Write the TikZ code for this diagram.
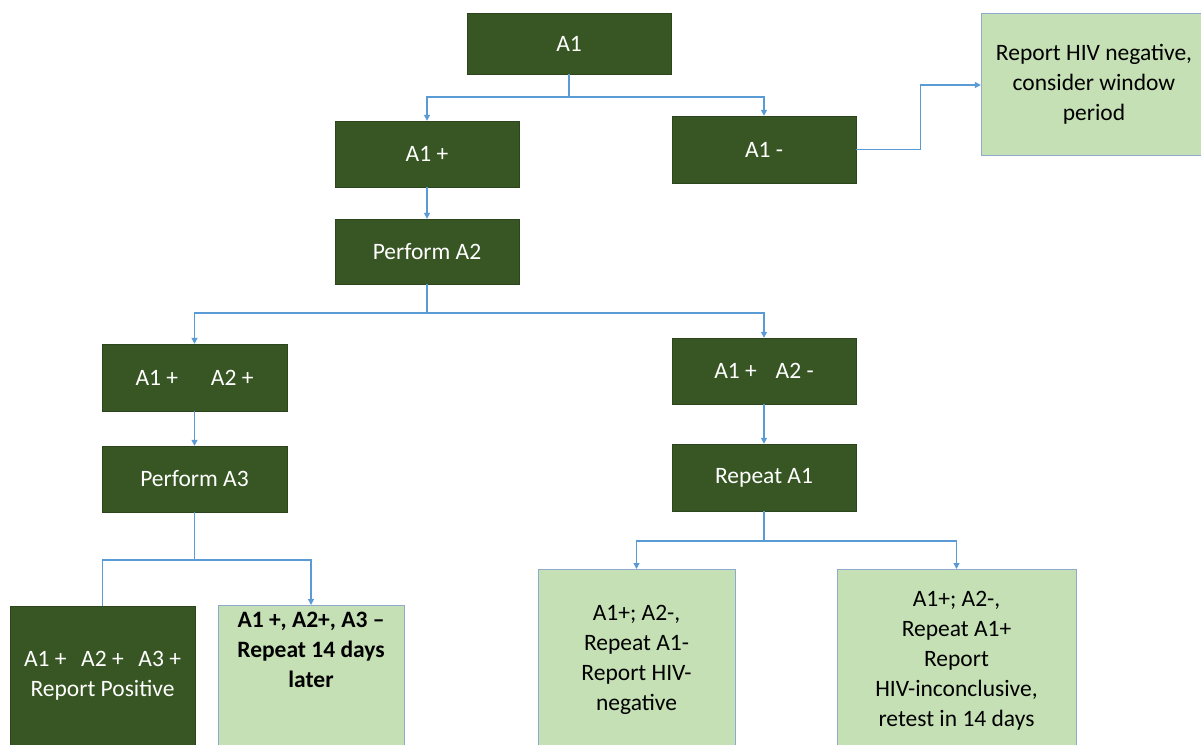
\documentclass[tikz,border=0pt]{standalone}
\usepackage{fontspec}
\setmainfont{Carlito}
\usetikzlibrary{arrows.meta}
\definecolor{dkgreen}{HTML}{375623}
\definecolor{ltgreen}{HTML}{C5E0B4}
\definecolor{ltborder}{HTML}{8FAACC}
\definecolor{conn}{HTML}{5B9BD5}
\begin{document}
\begin{tikzpicture}[x=1pt,y=-1pt,
  dkbox/.style={draw=dkgreen!80!black,fill=dkgreen,text=white,inner sep=0pt,font=\fontsize{23.5}{30}\selectfont},
  ltbox/.style={draw=ltborder,fill=ltgreen,text=black,inner sep=0pt,font=\fontsize{23.5}{30}\selectfont},
  txt/.style={align=center,inner sep=0pt,font=\fontsize{23.5}{30}\selectfont},
  conline/.style={draw=conn,line width=1.2pt},
  arr/.style={conline,-{Triangle[length=6pt,width=6pt]}}]
\useasboundingbox (0,0) rectangle (1201,744);
\clip (0,0) rectangle (1201,744);
% top level
\node[dkbox,minimum width=204pt,minimum height=61pt] (a1) at (569,43.5) {A1};
\node[dkbox,minimum width=184pt,minimum height=66pt] (a1p) at (427,154) {A1 +};
\node[dkbox,minimum width=184pt,minimum height=67pt] (a1m) at (764,149.5) {A1 -};
\node[ltbox,minimum width=226pt,minimum height=142pt] (rep) at (1094,84) {};
\node[txt] (rept) at (1094,84) {Report HIV negative,\\consider window\\period};
\node[dkbox,minimum width=184pt,minimum height=65pt] (pa2) at (427,251.5) {Perform A2};
\node[dkbox,minimum width=185pt,minimum height=67pt] (p2p) at (194.5,377.5) {A1 +\hspace{1.4em}A2 +};
\node[dkbox,minimum width=184pt,minimum height=66pt] (p2m) at (764,371) {A1 +\hspace{0.8em}A2 -};
\node[dkbox,minimum width=185pt,minimum height=66pt] (pa3) at (194.5,479) {Perform A3};
\node[dkbox,minimum width=184pt,minimum height=67pt] (ra1) at (764,477.5) {Repeat A1};
% bottom boxes (cut by the page edge)
\node[dkbox,minimum width=185pt,minimum height=160pt,anchor=north] (pos) at (102.5,606) {};
\node[txt,text=white] (post) at (102.5,676) {A1 +\hspace{0.4em} A2 +\hspace{0.4em} A3 +\\Report Positive};
\node[ltbox,minimum width=186pt,minimum height=160pt,anchor=north] (r14) at (311,605) {};
\node[txt,font=\fontsize{23.5}{30}\selectfont\bfseries] (r14t) at (311,650) {A1 +, A2+, A3 --\\Repeat 14 days\\later};
\node[ltbox,minimum width=197pt,minimum height=200pt,anchor=north] (neg) at (636.5,569) {};
\node[txt] (negt) at (636.5,660) {A1+; A2-,\\Repeat A1-\\Report HIV-\\negative};
\node[ltbox,minimum width=239pt,minimum height=200pt,anchor=north] (inc) at (956.5,569) {};
\node[txt] (inct) at (956.5,661) {A1+; A2-,\\Repeat A1+\\Report\\HIV-inconclusive,\\retest in 14 days};
% connectors
\coordinate (j1) at (569,97);
\draw[conline] (a1.south) -- (j1);
\draw[arr] (j1) -| (a1p.north);
\draw[arr] (j1) -| (a1m.north);
\draw[arr] (a1m.east) -- ++(64,0) |- (rep.west |- 0,85);
\draw[arr] (a1p.south) -- (pa2.north);
\coordinate (j2) at (427,313);
\draw[conline] (pa2.south) -- (j2);
\draw[arr] (j2) -| (p2p.north);
\draw[arr] (j2) -| (p2m.north);
\draw[arr] (p2p.south) -- (pa3.north);
\draw[arr] (p2m.south) -- (ra1.north);
\coordinate (j3) at (194.5,560);
\draw[conline] (pa3.south) -- (j3);
\draw[conline] (j3) -| (pos.north);
\draw[arr] (j3) -| (r14.north);
\coordinate (j4) at (764,541);
\draw[conline] (ra1.south) -- (j4);
\draw[arr] (j4) -| (neg.north);
\draw[arr] (j4) -| (inc.north);
\end{tikzpicture}
\end{document}
